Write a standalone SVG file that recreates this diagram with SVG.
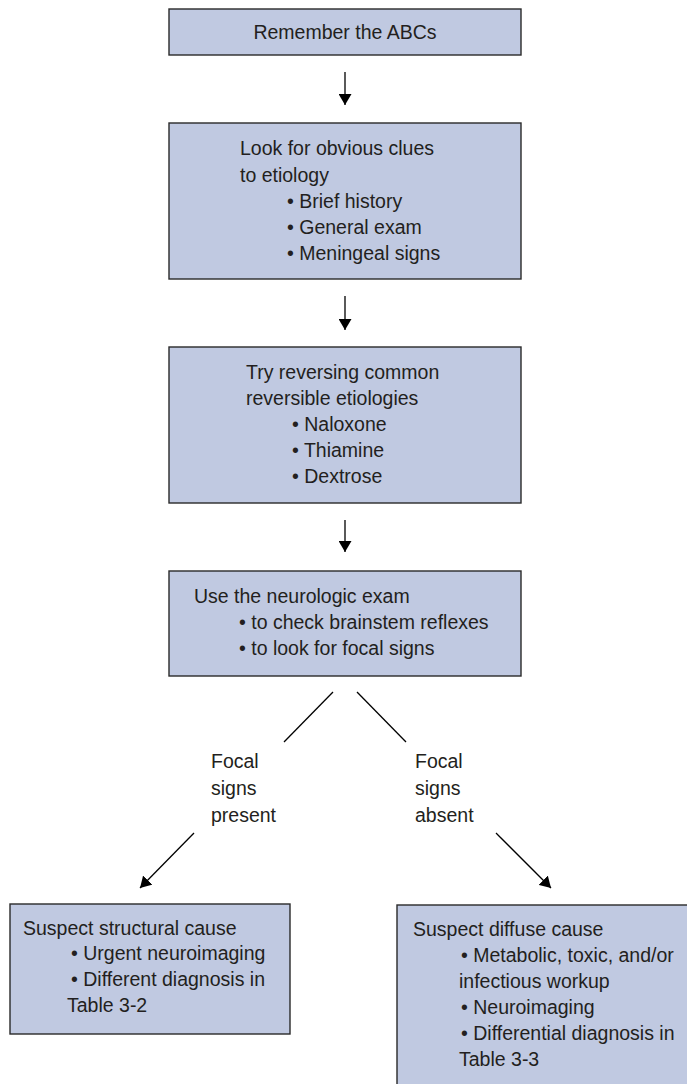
<svg xmlns="http://www.w3.org/2000/svg" width="687" height="1084" viewBox="0 0 687 1084">
<defs>
<marker id="ah" markerUnits="userSpaceOnUse" markerWidth="12" markerHeight="13" refX="11" refY="6.5" orient="auto">
<path d="M0,0 L11,6.5 L0,13 z" fill="#000"/>
</marker>
<style>
.box{fill:#c0c9e1;stroke:#2a2a2a;stroke-width:1.4}
text{font-family:"Liberation Sans",Arial,sans-serif;font-size:19.5px;fill:#231f20}
.c{stroke:#000;stroke-width:1.3;fill:none}
</style>
</defs>
<rect width="687" height="1084" fill="#fff"/>
<g id="n1">
<rect class="box" x="169" y="9" width="352" height="46"/>
<text x="345" y="39" text-anchor="middle">Remember the ABCs</text>
</g>
<g id="n2">
<rect class="box" x="169" y="123" width="352" height="156"/>
<text x="240" y="155">Look for obvious clues</text>
<text x="240" y="182">to etiology</text>
<text x="287" y="208">• Brief history</text>
<text x="287" y="234">• General exam</text>
<text x="287" y="260">• Meningeal signs</text>
</g>
<g id="n3">
<rect class="box" x="169" y="347" width="352" height="156"/>
<text x="246" y="379">Try reversing common</text>
<text x="246" y="405">reversible etiologies</text>
<text x="292" y="431">• Naloxone</text>
<text x="292" y="457">• Thiamine</text>
<text x="292" y="483">• Dextrose</text>
</g>
<g id="n4">
<rect class="box" x="169" y="571" width="352" height="105"/>
<text x="194" y="603">Use the neurologic exam</text>
<text x="239" y="629">• to check brainstem reflexes</text>
<text x="239" y="655">• to look for focal signs</text>
</g>
<g id="n5">
<rect class="box" x="10" y="904" width="280" height="130"/>
<text x="23" y="935">Suspect structural cause</text>
<text x="71" y="960">• Urgent neuroimaging</text>
<text x="71" y="986">• Different diagnosis in</text>
<text x="67" y="1012">Table 3-2</text>
</g>
<g id="n6">
<rect class="box" x="397" y="905" width="300" height="190"/>
<text x="413" y="936">Suspect diffuse cause</text>
<text x="461" y="962">• Metabolic, toxic, and/or</text>
<text x="459" y="988">infectious workup</text>
<text x="461" y="1014">• Neuroimaging</text>
<text x="461" y="1040">• Differential diagnosis in</text>
<text x="459" y="1066">Table 3-3</text>
</g>
<g id="labels">
<text x="211" y="768">Focal</text>
<text x="211" y="795">signs</text>
<text x="211" y="822">present</text>
<text x="415" y="768">Focal</text>
<text x="415" y="795">signs</text>
<text x="415" y="822">absent</text>
</g>
<g id="connectors">
<line class="c" x1="345" y1="72" x2="345" y2="105" marker-end="url(#ah)"/>
<line class="c" x1="345" y1="296" x2="345" y2="330" marker-end="url(#ah)"/>
<line class="c" x1="345" y1="520" x2="345" y2="552" marker-end="url(#ah)"/>
<line class="c" x1="333" y1="692" x2="284" y2="742"/>
<line class="c" x1="357" y1="692" x2="406" y2="742"/>
<line class="c" x1="194" y1="833" x2="140" y2="888" marker-end="url(#ah)"/>
<line class="c" x1="496" y1="833" x2="551" y2="888" marker-end="url(#ah)"/>
</g>
</svg>
